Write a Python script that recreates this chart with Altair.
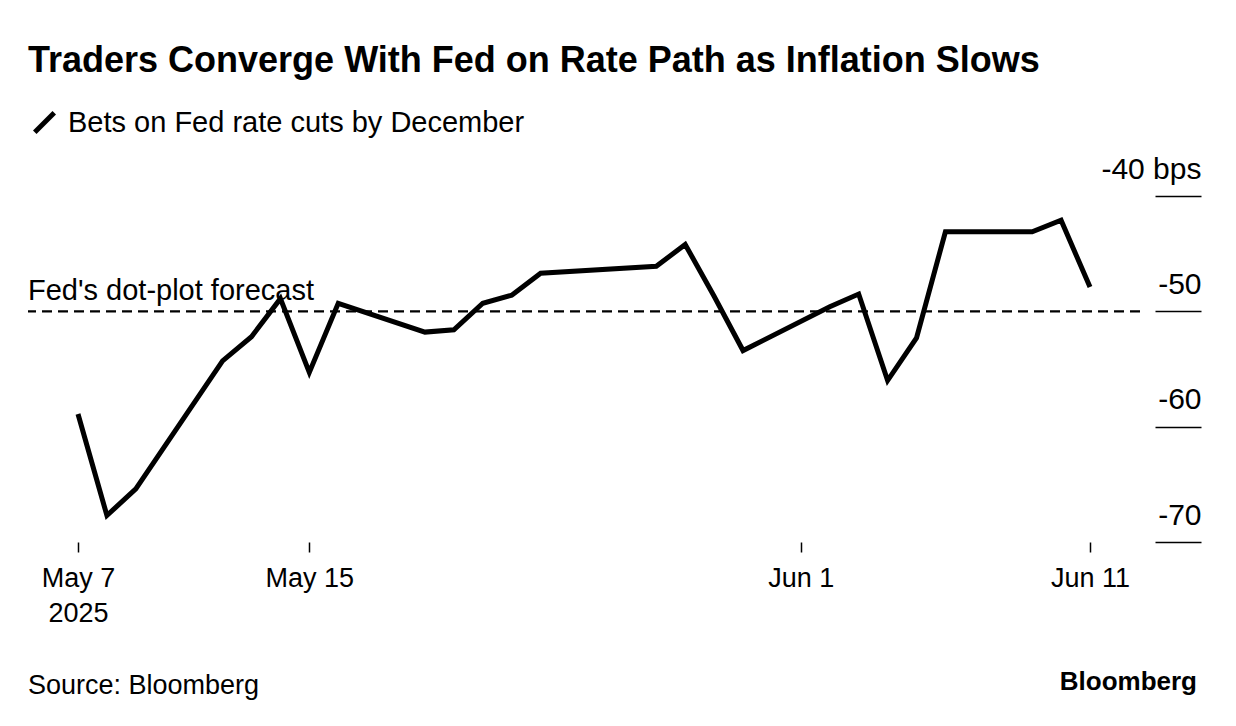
import altair as alt
import pandas as pd

# ---- data ----
dates = ["2025-05-07", "2025-05-08", "2025-05-09", "2025-05-12", "2025-05-13",
         "2025-05-14", "2025-05-15", "2025-05-16", "2025-05-19", "2025-05-20",
         "2025-05-21", "2025-05-22", "2025-05-23", "2025-05-27", "2025-05-28",
         "2025-05-29", "2025-05-30", "2025-06-02", "2025-06-03", "2025-06-04",
         "2025-06-05", "2025-06-06", "2025-06-09", "2025-06-10", "2025-06-11"]
bets = [-58.9, -67.7, -65.4, -54.3, -52.2,
        -48.9, -55.3, -49.3, -51.8, -51.6,
        -49.3, -48.6, -46.7, -46.1, -44.2,
        -48.7, -53.4, -49.6, -48.5, -56.0,
        -52.3, -43.1, -43.1, -42.1, -47.9]
series_name = "Bets on Fed rate cuts by December"
fed_dot_plot = -50
fed_label = "Fed's dot-plot forecast"
x_tick_dates = ["2025-05-07", "2025-05-15", "2025-06-01", "2025-06-11"]
y_ticks = [-70, -60, -50, -40]
x_domain = ["2025-05-05 06:30", "2025-06-12 17:30"]
y_domain = [-70, -40]
title_text = "Traders Converge With Fed on Rate Path as Inflation Slows"
source_text = "Source: Bloomberg"
brand_text = "Bloomberg"

FONT = "Liberation Sans"


def ms(s):
    return int(pd.Timestamp(s, tz="UTC").value // 10**6)


df = pd.DataFrame({"t": [ms(d) for d in dates], "v": bets, "series": series_name})

x_scale = alt.Scale(type="utc", domain=[ms(d) for d in x_domain], nice=False)
y_scale = alt.Scale(domain=y_domain, nice=False, zero=False)

x_enc = alt.X(
    "t:T",
    scale=x_scale,
    axis=alt.Axis(
        title=None,
        values=[ms(d) for d in x_tick_dates],
        domain=False,
        grid=False,
        ticks=True,
        tickSize=10,
        tickWidth=1.5,
        tickColor="black",
        labelFont=FONT,
        labelFontSize=27,
        labelColor="black",
        labelPadding=13,
        labelBaseline="top",
        labelLineHeight=35,
        labelFlush=False,
        labelOverlap=False,
        labelExpr="utcFormat(datum.value, '%m-%d') == '05-07' ? ['May 7', '2025'] : utcFormat(datum.value, '%b %-d')",
    ),
)

y_enc = alt.Y(
    "v:Q",
    scale=y_scale,
    axis=alt.Axis(
        title=None,
        orient="right",
        values=y_ticks,
        offset=15,
        domain=False,
        grid=False,
        tickSize=46,
        tickWidth=1.5,
        tickColor="black",
        labelFont=FONT,
        labelFontSize=30,
        labelColor="black",
        labelAlign="right",
        labelBaseline="alphabetic",
        labelPadding=0,
        labelOffset=-18,
        labelFlush=False,
        labelOverlap=False,
        labelBound=False,
        labelExpr="datum.value == -40 ? '-40 bps' : '' + datum.value",
    ),
)

line = alt.Chart(df).mark_line(strokeWidth=5, strokeJoin="miter").encode(
    x=x_enc,
    y=y_enc,
    color=alt.Color(
        "series:N",
        scale=alt.Scale(range=["black"]),
        legend=alt.Legend(
            title=None,
            orient="none",
            legendX=2,
            legendY=-88,
            padding=0,
            symbolType="M-1,1L1,-1",
            symbolSize=380,
            symbolStrokeWidth=5,
            symbolStrokeColor="black",
            labelFont=FONT,
            labelFontSize=29,
            labelColor="black",
            labelOffset=9,
            labelLimit=0,
        ),
    ),
)

ref_df = pd.DataFrame({"v": [fed_dot_plot], "label": [fed_label]})

ref_rule = alt.Chart(ref_df).mark_rule(
    color="black", strokeWidth=2.2, strokeDash=[10, 6]
).encode(y=alt.Y("v:Q", scale=y_scale))

ref_text = alt.Chart(ref_df).mark_text(
    align="left", baseline="alphabetic", dy=-11, font=FONT, fontSize=29, color="black"
).encode(y=alt.Y("v:Q", scale=y_scale), x=alt.value(0), text="label:N")

src_df = pd.DataFrame({"label": [source_text]})
brand_df = pd.DataFrame({"label": [brand_text]})

src_text = alt.Chart(src_df).mark_text(
    align="left", baseline="alphabetic", font=FONT, fontSize=27, color="black"
).encode(x=alt.value(0), y=alt.value(498), text="label:N")

brand = alt.Chart(brand_df).mark_text(
    align="right", baseline="alphabetic", font=FONT, fontSize=26, fontWeight="bold", color="black"
).encode(x=alt.value(1169), y=alt.value(494), text="label:N")

chart = alt.layer(ref_rule, ref_text, line, src_text, brand).properties(
    width=1112,
    height=346,
    padding={"left": 20, "top": 188, "right": 88, "bottom": 170},
    autosize=alt.AutoSizeParams(type="none"),
    background="white",
    title=alt.Title(
        title_text,
        anchor="start",
        frame="group",
        font=FONT,
        fontSize=36,
        fontWeight="bold",
        color="black",
        baseline="alphabetic",
        offset=0,
    ),
).configure_view(stroke=None)

chart.save("out.html", embed_options={"renderer": "svg", "actions": False})
